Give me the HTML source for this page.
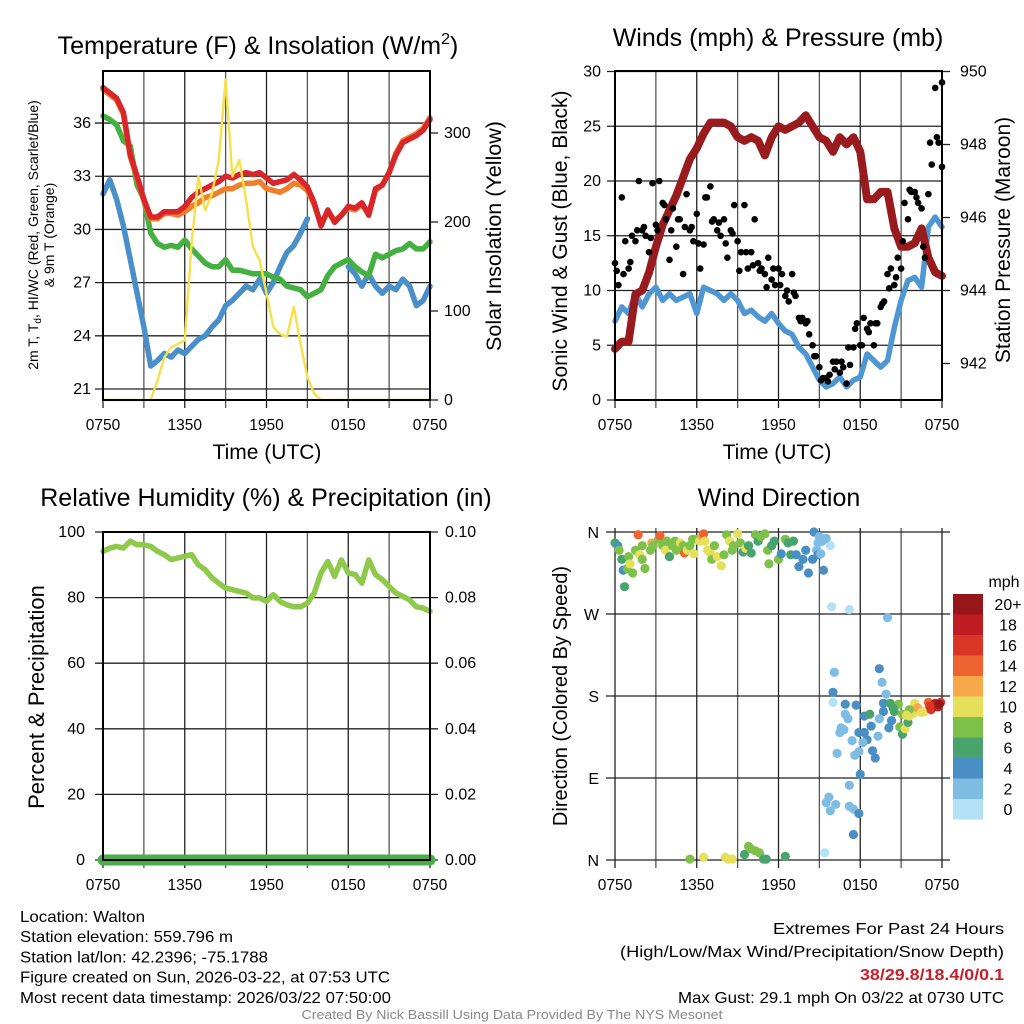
<!DOCTYPE html>
<html><head><meta charset="utf-8"><style>
html,body{margin:0;padding:0;background:#fff;}
svg{display:block;font-family:"Liberation Sans",sans-serif;}
</style></head><body>
<svg id="chart" width="1024" height="1024" viewBox="0 0 1024 1024" xmlns="http://www.w3.org/2000/svg">
<rect width="1024" height="1024" fill="#fff"/>
<g id="layer"></g>
</svg>
<script>
// ---- data (half-hour steps over 24 h) ----
const timeTicks = ["0750","1350","1950","0150","0750"];
const tempRed = [38.0,37.7,37.4,36.6,34.2,33.0,31.7,30.7,30.7,31.0,31.0,31.0,31.3,31.8,32.1,32.3,32.5,32.7,33.0,32.9,33.1,33.2,33.1,33.2,32.9,32.6,32.7,32.8,33.1,32.8,32.4,31.5,30.2,31.1,30.4,30.8,31.3,31.2,31.5,30.8,32.3,32.5,33.2,34.2,34.9,35.1,35.3,35.6,36.2];
const tempOrange = [37.9,37.6,37.3,36.5,34.1,32.9,31.6,30.6,30.6,30.9,30.9,30.8,31.0,31.3,31.5,31.8,31.9,32.1,32.3,32.3,32.5,32.6,32.6,32.7,32.3,32.2,32.1,32.3,32.6,32.5,32.2,31.4,30.3,31.0,30.5,30.8,31.2,31.1,31.4,30.9,32.2,32.5,33.2,34.3,35.0,35.2,35.4,35.7,36.3];
const tempGreen = [36.4,36.2,35.9,35.0,34.7,32.5,31.7,29.8,29.2,29.0,29.1,29.0,29.4,28.9,28.5,28.1,27.9,27.9,28.3,27.7,27.7,27.6,27.5,27.5,27.5,27.3,27.2,26.8,26.7,26.6,26.2,26.4,26.6,27.4,27.9,28.1,28.3,27.9,27.6,27.4,28.6,28.4,28.6,28.8,28.9,29.2,28.9,28.9,29.3];
const tempBlue = [32.0,32.8,31.7,30.2,28.3,26.4,24.5,22.3,22.6,23.0,22.8,23.2,23.0,23.4,23.8,24.0,24.5,24.9,25.7,26.0,26.4,26.8,26.6,27.2,26.4,27.0,27.9,28.7,29.1,29.8,30.6,null,null,29.2,null,null,27.9,27.5,26.8,27.5,26.8,26.4,26.8,26.6,27.2,26.8,25.7,26.0,26.8];
const insolation = [0,0,0,0,0,0,0,0,22,48,59,63,67,176,251,213,232,270,360,251,270,225,172,157,120,82,74,71,105,63,26,7,0,0,0,0,0,0,0,0,0,0,0,0,0,0,0,0,0];
const windSpeed = [7.2,8.5,7.9,9.7,8.5,9.7,10.3,9.1,9.7,9.1,9.4,9.7,7.9,10.3,10.0,9.7,9.1,9.7,9.1,7.9,8.2,7.6,7.2,7.9,7.0,6.3,6.0,4.8,4.2,3.0,1.8,1.2,1.5,2.1,1.2,1.8,2.1,4.2,3.6,3.0,3.6,6.6,9.1,10.9,11.2,10.3,15.8,16.7,15.8];
const pressure = [942.4,942.6,942.6,943.9,944.0,944.5,945.2,945.8,946.2,946.6,947.1,947.6,947.9,948.3,948.6,948.6,948.6,948.5,948.2,948.1,948.2,948.1,947.7,948.2,948.5,948.4,948.5,948.6,948.8,948.5,948.2,948.1,947.8,948.2,948.0,948.2,947.8,946.5,946.5,946.7,946.7,945.7,945.2,945.2,945.3,945.7,944.9,944.5,944.4];
// gusts at quarter-hour steps
const gustA = [12.5,10.5,18.5,14.5,12,15,14.5,20,15.5,15,13.5,19.8,16,20,18,16.5,12.8,17.5,14,16.5,11.5,18.8,15.5,14.5,17,12,14.2,18.5,19.5,16.5,15.5,15,16.5,13,15.5,17.8,14.5,13.5,17.8,12,13.5,16.5,12.5,12,11.5,13,11,10.5,12,11.5,9.5,9,11.5,9.5,7.5,7.5,7,6,5,4,3,2,2,2.3,3.5,3.5,2.5,3,1.5,3.2,4.8,7,5,7.5,6.5,7,5,7,8.5,9,11.5,12,10.5,13,12,18,16.5,19,19,18,17.5,13,18.8,21.5,28.5,23.5,29];
// extra gusts offset by 7.5 min, half-hour steps
const gustB = [11.8,11.5,12.6,15.5,15.8,14.8,15.5,17.8,15.5,16.5,15.8,15.8,14.3,18.5,16.3,16.2,14.3,15.2,11.8,13.5,12.3,11.8,10.3,12,10.5,10,9.8,7.2,7.2,4,1.8,1.7,2.8,3.5,4.8,6.5,5,6.2,7,8.8,10.2,11.2,14.5,19.2,18.5,14,23.5,24,21.3];
const humidity = [94.1,95.1,95.6,95.1,97.2,96.1,96.1,95.6,94.1,93.1,91.6,92.1,92.6,93.1,90,88.5,86,84.4,82.9,82.4,81.9,81.4,79.9,79.9,78.8,80.9,78.8,77.8,77.2,77.2,78.3,81.4,87.5,91,86.5,91.5,87.5,87,84.4,91.5,87,85.5,83.4,81.4,80.4,79.3,77.2,76.8,75.8];
const precip = [0,0,0,0,0,0,0,0,0,0,0,0,0,0,0,0,0,0,0,0,0,0,0,0,0,0,0,0,0,0,0,0,0,0,0,0,0,0,0,0,0,0,0,0,0,0,0,0,0];
// wind direction points: hour, degrees, speed
const dirHours = [0,0.2,0.3,0.5,0.6,0.7,0.9,1,1.1,1.3,1.5,1.7,1.8,2,2,2.2,2.6,2.7,2.8,3.2,3.3,3.5,3.7,3.8,4,4.2,4.4,4.5,4.8,5,5.1,5.3,5.5,5.7,5.8,6,6.2,6.4,6.5,6.6,6.8,7,7.1,7.3,7.5,7.8,8,8.2,8.4,8.6,8.7,9,9.2,9.4,9.6,9.8,10,10.3,10.5,10.7,11,11.2,11.3,11.5,11.7,12,12.2,12.5,12.7,12.9,13.1,13.3,13.5,13.8,14,14.2,14.5,14.6,14.8,14.9,15.2,15.8,
5.5,6.5,8.1,8.3,8.6,9.5,9.8,10,10.3,10.6,10.9,11.1,12.5,
15.9,17.2,20,19.4,16.1,19.6,16,19.9,16,16.9,17.7,16.9,17.1,18.3,18.7,19.7,20.2,20.8,19.7,20.5,20.3,20.1,19.4,16.6,16.5,16.8,17.9,18.3,18.8,18.5,18.2,19.3,17.4,18.9,19.1,17.9,17.6,16.3,18,17.2,15.7,15.5,16.2,15.8,17.2,17.5,17.9,17.5,15.4,15.1,15.3,14.9,15.0,15.3,15.5,
20.4,21.1,20.9,21.1,21.3,21.5,21.6,21.9,22,22.2,22.5,22.7,23,23.2,23.5,23.7,23.9,23.8,23.1,21.6,21.4];
const dirDegrees = [348,345,340,330,318,300,320,333,325,315,340,357,335,345,330,320,340,348,345,352,356,345,340,350,333,345,350,340,348,345,337,340,345,352,336,352,350,355,358,350,340,337,330,345,333,323,335,357,350,340,345,358,348,338,342,345,337,357,350,355,358,340,325,345,350,330,336,352,348,335,350,335,322,330,340,315,330,360,340,335,350,345,
1,3,3,1,1,6,15,12,10,8,1,1,4,
278,275,266,210,206,195,184,182,173,171,170,160,155,158,160,172,172,171,163,163,153,145,155,145,140,143,140,140,147,132,129,136,131,120,112,119,115,117,94,82,69,63,61,54,59,56,51,28,8,336,318,348,355,352,353,
167,160,146,138,144,151,158,161,172,167,162,163,173,165,172,168,173,171,169,165,159];
const dirSpeeds = [6,4,7,6,4,6,7,8,10,8,8,13,10,8,7,8,8,12,7,8,13,8,10,8,6,8,7,8,9,8,13,9,8,7,10,8,10,12,13,10,10,10,8,8,10,10,8,8,10,7,8,10,7,6,9,6,6,8,6,8,7,7,8,6,6,8,4,8,6,6,6,4,4,3,4,4,3,4,2,3,1,0,
7,10,10,10,10,6,8,7,8,8,6,6,6,
0,0,1,3,2,2,3,2,0,3,3,1,2,4,6,4,6,8,4,6,4,4,2,2,2,2,3,3,3,4,2,2,1,4,4,2,2,1,3,1,1,1,2,1,1,1,3,3,0,2,3,2,1,2,1,
6,8,8,6,10,6,10,10,10,12,10,10,14,16,18,18,16,20,16,8,10];
const speedBins = ["20+","18","16","14","12","10","8","6","4","2","0"];
const binColors = ["#951719","#c01c22","#db3529","#ee6430","#f6a84a","#e5df5a","#7dc14b","#48a36c","#4a8fc4","#7fbce4","#b3e2f7"];

const NS="http://www.w3.org/2000/svg";
const layer=document.getElementById('layer');
function mk(tag,attrs,parent){const e=document.createElementNS(NS,tag);for(const k in attrs)e.setAttribute(k,attrs[k]);(parent||layer).appendChild(e);return e;}
function txt(s,x,y,size,anchor,opts){const e=mk('text',Object.assign({x:x,y:y,'font-size':size,'text-anchor':anchor||'middle',fill:'#000'},opts||{}));e.textContent=s;return e;}

function panel(x0,y0,w,h){return {x0,y0,w,h,tx:t=>x0+t/24*w};}
const P1=panel(103,71,327,329), P2=panel(615,71,327,329), P3=panel(103,532,327,328), P4=panel(615,532,327,328);

function vgrid(P,ext){
  for(let i=0;i<=8;i++){const x=P.tx(i*3);
    const l=mk('line',{x1:x,x2:x,y1:P.y0-ext,y2:P.y0+P.h+8,stroke:(i%2==0?'#222':'#555'),'stroke-width':1.3});
    
    }
  timeTicks.forEach((s,i)=>{const t=txt(s,P.tx(i*6),P.y0+P.h+30,15.5);
    
    });
}
function hline(P,y,x1,x2,col){const l=mk('line',{x1:x1,x2:x2,y1:y,y2:y,stroke:col||'#222','stroke-width':1.3});
  
  }
function frame(P){const r=mk('rect',{x:P.x0,y:P.y0,width:P.w,height:P.h,fill:'none',stroke:'#000','stroke-width':2});
  
  }
function series(P,vals,fy,color,width,name,step){
  let d='',pen=false;
  vals.forEach((v,i)=>{if(v===null){pen=false;return;}const x=P.tx(i*(step||0.5)),y=fy(v);d+=(pen?'L':'M')+x.toFixed(1)+' '+y.toFixed(1);pen=true;});
  const p=mk('path',{d:d,fill:'none',stroke:color,'stroke-width':width,'stroke-linejoin':'round','stroke-linecap':'round'});
  
  
}
function rot(s,x,y,size,name){const t=txt(s,x,y,size,'middle',{transform:`rotate(-90 ${x} ${y})`});
  
  return t;}

// ---------- Panel 1 ----------
const yT=v=>389-(v-21)*17.73, yI=v=>400-v*0.89;
vgrid(P1,0);
[21,24,27,30,33,36].forEach(v=>{hline(P1,yT(v),P1.x0-8,P1.x0+P1.w);const t=txt(String(v),P1.x0-12,yT(v)+5,16,'end');
  
  });
hline(P1,P1.y0,P1.x0,P1.x0+P1.w);
[0,100,200,300].forEach(v=>{hline(P1,yI(v),P1.x0+P1.w,P1.x0+P1.w+8);const t=txt(String(v),P1.x0+P1.w+14,yI(v)+5,16,'start');
  
  });
series(P1,tempBlue,yT,'#4a8fc8',5.5,'dewpoint-line');
series(P1,tempGreen,yT,'#44b03f',5.5,'heat-index-line');
series(P1,tempOrange,yT,'#f07f2c',5.5,'temp-9m-line');
series(P1,tempRed,yT,'#d8262a',5.5,'temp-2m-line');
series(P1,insolation,yI,'#f7e04a',2.4,'insolation-line');
frame(P1);
let t1=txt('Temperature (F) & Insolation (W/m',258,54,25);


const sup=mk('tspan',{dy:-10,'font-size':16},t1);sup.textContent='2';
const sup2=mk('tspan',{dy:10},t1);sup2.textContent=')';
const yt=rot('2m T, T',38,235,14,'panel1-y-title');
const sub=mk('tspan',{dy:3,'font-size':10},yt);sub.textContent='d';
const sub2=mk('tspan',{dy:-3},yt);sub2.textContent=', HI/WC (Red, Green, Scarlet/Blue)';
rot('& 9m T (Orange)',54,235,14,'panel1-y-title-2');
rot('Solar Insolation (Yellow)',501,236,21.5,'panel1-y2-title');
let tx1=txt('Time (UTC)',267,459,21);



// ---------- Panel 2 ----------
const yW=v=>400-v*10.95, yP=v=>71.5+(950-v)*36.5;
vgrid(P2,0);
[0,5,10,15,20,25,30].forEach(v=>{hline(P2,yW(v),P2.x0-8,P2.x0+P2.w);const t=txt(String(v),P2.x0-14,yW(v)+5,16,'end');
  
  });
[942,944,946,948,950].forEach(v=>{hline(P2,yP(v),P2.x0+P2.w,P2.x0+P2.w+8);const t=txt(String(v),P2.x0+P2.w+18,yP(v)+5,16,'start');
  
  });
series(P2,windSpeed,yW,'#4f97d2',5.5,'wind-speed-line');
series(P2,pressure,yP,'#991b1e',8,'pressure-line');
gustA.forEach((v,i)=>{const c=mk('circle',{cx:P2.tx(i*0.25),cy:yW(v),r:3.3,fill:'#000'});
  
  });
gustB.forEach((v,i)=>{const c=mk('circle',{cx:P2.tx(Math.min(24,i*0.5+0.125)),cy:yW(v),r:3.3,fill:'#000'});
  
  });
frame(P2);
let t2=txt('Winds (mph) & Pressure (mb)',778,46,25);


rot('Sonic Wind & Gust (Blue, Black)',567,241,21,'panel2-y-title');
rot('Station Pressure (Maroon)',1010,240,21,'panel2-y2-title');
let tx2=txt('Time (UTC)',777,459,21);



// ---------- Panel 3 ----------
const yH=v=>860-v*3.28, yR=v=>860-v*3280;
vgrid(P3,0);
[0,20,40,60,80,100].forEach(v=>{hline(P3,yH(v),P3.x0-8,P3.x0+P3.w+8);const t=txt(String(v),P3.x0-18,yH(v)+5,16,'end');
  
  });
["0.00","0.02","0.04","0.06","0.08","0.10"].forEach((s,i)=>{const t=txt(s,P3.x0+P3.w+15,yH(i*20)+5,16,'start');
  
  });
series(P3,humidity,yH,'#8fc94c',5.5,'humidity-line');
series(P3,precip,yR,'#49ae49',11,'precip-line');
frame(P3);
let t3=txt('Relative Humidity (%) & Precipitation (in)',266,506,25);


rot('Percent & Precipitation',44,697,22,'panel3-y-title');

// ---------- Panel 4 ----------
const yD=v=>860-v/360*328;
vgrid(P4,4);
["N","E","S","W","N"].forEach((s,i)=>{hline(P4,yD(i*90),P4.x0-9,P4.x0+P4.w+8);const t=txt(s,P4.x0-16,yD(i*90)+6,16,'end');
  
  });
function speedColor(s){const idx=Math.max(0,Math.min(10,10-Math.round(s/2)));return binColors[idx];}
dirHours.forEach((h,i)=>{const c=mk('circle',{cx:P4.tx(h),cy:yD(dirDegrees[i]),r:4.6,fill:speedColor(dirSpeeds[i])});
  
  });
let t4=txt('Wind Direction',779,506,25);


rot('Direction (Colored By Speed)',567,696,20,'panel4-y-title');
let mph=txt('mph',1004,587,16);


speedBins.forEach((s,i)=>{const r=mk('rect',{x:953,y:594+i*20.5,width:30,height:20.6,fill:binColors[i]});
  
  
  const t=txt(s,1008,594+i*20.5+16,16);
  
  });

// ---------- footer ----------
[["Location: Walton",125],["Station elevation: 559.796 m",213],["Station lat/lon: 42.2396; -75.1788",248],["Figure created on Sun, 2026-03-22, at 07:53 UTC",370],["Most recent data timestamp: 2026/03/22 07:50:00",371]].forEach((a,i)=>{
  const t=txt(a[0],20,922+i*20.2,16,'start',{textLength:a[1],lengthAdjust:'spacingAndGlyphs'});
  
  });
[["Extremes For Past 24 Hours",934,'#000','normal',231],["(High/Low/Max Wind/Precipitation/Snow Depth)",957,'#000','normal',384],["38/29.8/18.4/0/0.1",980,'#c8202a','bold',144],["Max Gust: 29.1 mph On 03/22 at 0730 UTC",1003,'#000','normal',326]].forEach(a=>{
  const t=txt(a[0],1004,a[1],16,'end',{fill:a[2],'font-weight':a[3],textLength:a[4],lengthAdjust:'spacingAndGlyphs'});
  
  });
const cr=txt('Created By Nick Bassill Using Data Provided By The NYS Mesonet',512,1019,12.5,'middle',{fill:'#888',textLength:421,lengthAdjust:'spacingAndGlyphs'});


</script>
</body></html>
